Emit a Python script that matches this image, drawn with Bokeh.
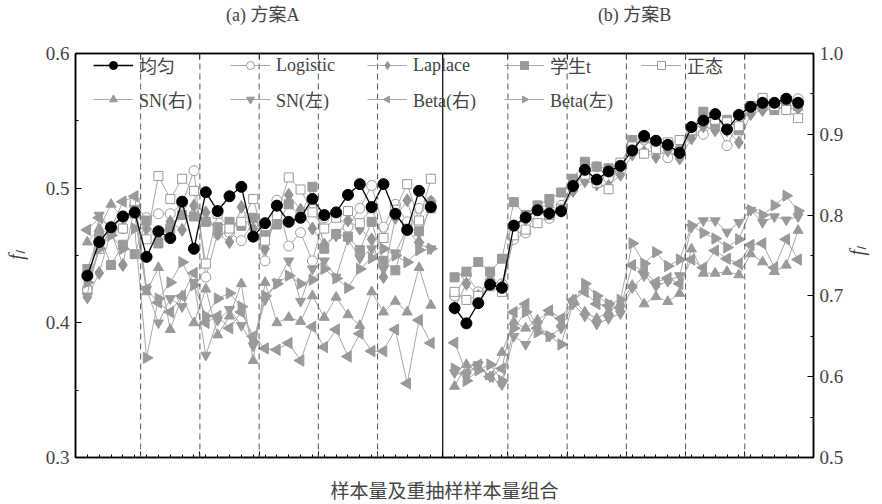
import math
from bokeh.plotting import figure
from bokeh.models import (Range1d, LinearAxis, FixedTicker, Span,
                          Legend, LegendItem, ColumnDataSource)
from bokeh.embed import file_html
from bokeh.resources import INLINE

# ---------------- data ----------------
x_a = list(range(1, 31))     # scheme A sample combinations
x_b = list(range(32, 62))    # scheme B sample combinations
group_bounds = [5.5, 10.5, 15.5, 20.5, 25.5, 36.5, 41.5, 46.5, 51.5, 56.5]
panel_divider = 31
panel_titles = ["(a) 方案A", "(b) 方案B"]
title_pos = [15.8, 47.2]
left_ticks = [0.3, 0.4, 0.5, 0.6]
right_ticks = [0.5, 0.6, 0.7, 0.8, 0.9, 1.0]

names = ["均匀", "Logistic", "Laplace", "学生t", "正态",
         "SN(右)", "SN(左)", "Beta(右)", "Beta(左)"]

uniform_a = [0.435, 0.460, 0.471, 0.479, 0.482, 0.449, 0.468, 0.463, 0.490, 0.455,
             0.497, 0.483, 0.494, 0.501, 0.464, 0.474, 0.487, 0.475, 0.478, 0.492,
             0.480, 0.482, 0.495, 0.503, 0.486, 0.503, 0.481, 0.469, 0.498, 0.486]
logistic_a = [0.425, 0.455, 0.468, 0.470, 0.487, 0.478, 0.481, 0.481, 0.488, 0.513,
              0.434, 0.466, 0.467, 0.461, 0.474, 0.446, 0.491, 0.457, 0.467, 0.446,
              0.478, 0.480, 0.471, 0.485, 0.502, 0.471, 0.488, 0.475, 0.485, 0.490]
laplace_a = [0.419, 0.437, 0.468, 0.443, 0.487, 0.470, 0.462, 0.475, 0.469, 0.487,
             0.482, 0.466, 0.460, 0.486, 0.470, 0.455, 0.480, 0.495, 0.484, 0.470,
             0.458, 0.465, 0.476, 0.470, 0.462, 0.434, 0.478, 0.491, 0.460, 0.490]
student_a = [0.440, 0.465, 0.443, 0.458, 0.451, 0.476, 0.459, 0.470, 0.480, 0.479,
             0.475, 0.471, 0.475, 0.472, 0.478, 0.465, 0.473, 0.488, 0.479, 0.501,
             0.455, 0.466, 0.464, 0.454, 0.475, 0.446, 0.439, 0.470, 0.468, 0.485]
normal_a = [0.424, 0.455, 0.470, 0.470, 0.489, 0.462, 0.509, 0.492, 0.507, 0.498,
            0.444, 0.481, 0.470, 0.475, 0.492, 0.461, 0.480, 0.508, 0.499, 0.482,
            0.470, 0.478, 0.483, 0.474, 0.485, 0.463, 0.484, 0.503, 0.476, 0.507]
sn_right_a = [0.460, 0.470, 0.488, 0.478, 0.480, 0.423, 0.441, 0.395, 0.420, 0.400,
              0.425, 0.391, 0.405, 0.429, 0.372, 0.430, 0.400, 0.404, 0.401, 0.420,
              0.404, 0.419, 0.406, 0.398, 0.423, 0.408, 0.416, 0.408, 0.441, 0.413]
sn_left_a = [0.420, 0.480, 0.470, 0.478, 0.485, 0.425, 0.400, 0.418, 0.412, 0.430,
             0.376, 0.402, 0.410, 0.398, 0.383, 0.417, 0.430, 0.446, 0.416, 0.440,
             0.446, 0.434, 0.462, 0.448, 0.455, 0.440, 0.452, 0.470, 0.458, 0.455]
beta_right_a = [0.469, 0.478, 0.470, 0.490, 0.494, 0.425, 0.415, 0.408, 0.420, 0.437,
                0.400, 0.405, 0.396, 0.408, 0.390, 0.381, 0.380, 0.385, 0.372, 0.397,
                0.382, 0.395, 0.375, 0.392, 0.379, 0.379, 0.395, 0.355, 0.402, 0.385]
beta_left_a = [0.430, 0.455, 0.465, 0.455, 0.470, 0.374, 0.418, 0.430, 0.445, 0.428,
               0.405, 0.418, 0.422, 0.412, 0.386, 0.420, 0.429, 0.435, 0.429, 0.432,
               0.440, 0.433, 0.426, 0.440, 0.448, 0.455, 0.450, 0.445, 0.454, 0.455]

uniform_b = [0.685, 0.666, 0.691, 0.714, 0.710, 0.787, 0.797, 0.806, 0.802, 0.805,
             0.836, 0.856, 0.844, 0.854, 0.861, 0.880, 0.898, 0.892, 0.887, 0.877,
             0.909, 0.917, 0.925, 0.906, 0.924, 0.934, 0.939, 0.939, 0.944, 0.939]
logistic_b = [0.700, 0.726, 0.705, 0.718, 0.715, 0.770, 0.778, 0.806, 0.796, 0.812,
              0.840, 0.848, 0.860, 0.846, 0.855, 0.887, 0.893, 0.885, 0.871, 0.880,
              0.898, 0.900, 0.915, 0.886, 0.915, 0.928, 0.934, 0.937, 0.941, 0.944]
laplace_b = [0.685, 0.715, 0.700, 0.720, 0.712, 0.785, 0.795, 0.810, 0.812, 0.805,
             0.830, 0.842, 0.838, 0.836, 0.850, 0.875, 0.878, 0.872, 0.880, 0.870,
             0.895, 0.910, 0.905, 0.905, 0.890, 0.925, 0.930, 0.932, 0.932, 0.932]
student_b = [0.723, 0.730, 0.742, 0.730, 0.746, 0.816, 0.800, 0.812, 0.820, 0.828,
             0.845, 0.866, 0.860, 0.858, 0.862, 0.893, 0.895, 0.882, 0.885, 0.880,
             0.905, 0.928, 0.912, 0.918, 0.905, 0.935, 0.935, 0.930, 0.935, 0.935]
normal_b = [0.705, 0.695, 0.700, 0.712, 0.705, 0.775, 0.782, 0.790, 0.800, 0.808,
            0.835, 0.850, 0.840, 0.832, 0.865, 0.885, 0.876, 0.882, 0.890, 0.893,
            0.905, 0.915, 0.918, 0.915, 0.910, 0.935, 0.945, 0.935, 0.930, 0.920]
sn_right_b = [0.588, 0.615, 0.612, 0.600, 0.630, 0.668, 0.660, 0.670, 0.680, 0.665,
              0.695, 0.680, 0.672, 0.680, 0.690, 0.713, 0.690, 0.699, 0.693, 0.703,
              0.758, 0.728, 0.728, 0.730, 0.726, 0.752, 0.742, 0.730, 0.738, 0.781]
sn_left_b = [0.605, 0.602, 0.615, 0.600, 0.590, 0.650, 0.640, 0.665, 0.650, 0.660,
             0.690, 0.675, 0.665, 0.672, 0.678, 0.710, 0.725, 0.712, 0.718, 0.725,
             0.785, 0.793, 0.793, 0.779, 0.791, 0.806, 0.791, 0.798, 0.794, 0.798]
beta_right_b = [0.642, 0.605, 0.615, 0.600, 0.610, 0.680, 0.690, 0.660, 0.682, 0.672,
                0.695, 0.705, 0.690, 0.688, 0.685, 0.738, 0.730, 0.717, 0.722, 0.715,
                0.745, 0.735, 0.756, 0.746, 0.740, 0.763, 0.765, 0.735, 0.770, 0.745]
beta_left_b = [0.610, 0.595, 0.608, 0.615, 0.595, 0.660, 0.680, 0.655, 0.650, 0.640,
               0.690, 0.715, 0.700, 0.690, 0.695, 0.765, 0.740, 0.754, 0.737, 0.745,
               0.787, 0.778, 0.771, 0.760, 0.770, 0.806, 0.800, 0.812, 0.824, 0.805]

series_a = [uniform_a, logistic_a, laplace_a, student_a, normal_a,
            sn_right_a, sn_left_a, beta_right_a, beta_left_a]
series_b = [uniform_b, logistic_b, laplace_b, student_b, normal_b,
            sn_right_b, sn_left_b, beta_right_b, beta_left_b]

# ---------------- styles ----------------
FONT = "Liberation Serif, Noto Sans CJK SC"
GRAY = "#9a9a9a"
LINE_GRAY = "#a8a8a8"
styles = [
    dict(marker="circle", size=11, fill="black", edge="black", line="black", lw=1.3, angle=0.0),
    dict(marker="circle", size=10, fill="white", edge=GRAY, line=LINE_GRAY, lw=1, angle=0.0),
    dict(marker="diamond", size=13, fill="#959595", edge="#959595", line=LINE_GRAY, lw=1, angle=0.0),
    dict(marker="square", size=9, fill=GRAY, edge=GRAY, line=LINE_GRAY, lw=1, angle=0.0),
    dict(marker="square", size=9, fill="white", edge=GRAY, line=LINE_GRAY, lw=1, angle=0.0),
    dict(marker="triangle", size=10, fill=GRAY, edge=GRAY, line=LINE_GRAY, lw=1, angle=0.0),
    dict(marker="inverted_triangle", size=10, fill=GRAY, edge=GRAY, line=LINE_GRAY, lw=1, angle=0.0),
    dict(marker="ngon", size=10, fill=GRAY, edge=GRAY, line=LINE_GRAY, lw=1, angle=math.pi / 2),
    dict(marker="ngon", size=10, fill=GRAY, edge=GRAY, line=LINE_GRAY, lw=1, angle=-math.pi / 2),
]

# ---------------- figure ----------------
p = figure(width=882, height=504, output_backend="svg", toolbar_location=None,
           x_range=Range1d(0, 62.3), y_range=Range1d(0.3, 0.6),
           min_border_left=75, min_border_right=60, min_border_top=53,
           min_border_bottom=46)
p.extra_y_ranges = {"right": Range1d(0.5, 1.0)}
p.grid.visible = False
p.outline_line_color = "black"
p.outline_line_width = 1.5
p.background_fill_color = "white"
p.border_fill_color = "white"

xticks_major = group_bounds[:5] + [panel_divider] + group_bounds[5:]
xminor = [i for i in range(1, 62)]

# bottom axis: group ticks + small ticks, axis title
bx = p.xaxis[0]
bx.ticker = FixedTicker(ticks=xticks_major, minor_ticks=xminor)
bx.major_label_overrides = {t: "" for t in xticks_major}
bx.major_tick_in = 6
bx.major_tick_out = 0
bx.minor_tick_in = 3
bx.minor_tick_out = 0
bx.major_label_standoff = 0
bx.axis_line_width = 1.5
bx.axis_label = "样本量及重抽样样本量组合"
bx.axis_label_text_font = FONT
bx.axis_label_text_font_size = "19px"
bx.axis_label_text_font_style = "normal"
bx.axis_label_standoff = 23

# top axis: panel titles as labels, group ticks drawn as (inward) minor ticks
top = LinearAxis(ticker=FixedTicker(ticks=title_pos, minor_ticks=xticks_major))
top.major_label_overrides = {t: s for t, s in zip(title_pos, panel_titles)}
top.major_label_text_font = FONT
top.major_label_text_font_size = "18px"
top.major_label_standoff = 29
top.major_tick_in = 0
top.major_tick_out = 0
top.minor_tick_in = 6
top.minor_tick_out = 0
top.axis_line_width = 1.5
p.add_layout(top, "above")

ly = p.yaxis[0]
ly.ticker = FixedTicker(ticks=left_ticks, minor_ticks=[0.35, 0.45, 0.55])
ly.major_label_overrides = {t: f"{t:.1f}" for t in left_ticks}
ly.major_tick_in = 6
ly.major_tick_out = 0
ly.minor_tick_in = 3
ly.minor_tick_out = 0
ly.axis_line_width = 1.5
ly.major_label_text_font = FONT
ly.major_label_text_font_size = "19px"
ly.major_label_standoff = 6
ly.axis_label = "f\u2097"
ly.axis_label_text_font = FONT
ly.axis_label_text_font_size = "20px"
ly.axis_label_text_font_style = "italic"
ly.axis_label_standoff = 16

ry = LinearAxis(y_range_name="right",
                ticker=FixedTicker(ticks=right_ticks, minor_ticks=[0.55, 0.65, 0.75, 0.85, 0.95]))
ry.major_label_overrides = {t: f"{t:.1f}" for t in right_ticks}
ry.major_tick_in = 6
ry.major_tick_out = 0
ry.minor_tick_in = 3
ry.minor_tick_out = 0
ry.axis_line_width = 1.5
ry.major_label_text_font = FONT
ry.major_label_text_font_size = "19px"
ry.major_label_standoff = 6
ry.axis_label = "f\u2097"
ry.axis_label_text_font = FONT
ry.axis_label_text_font_size = "20px"
ry.axis_label_text_font_style = "italic"
ry.axis_label_standoff = 11
ry.axis_label_orientation = math.pi / 2
p.add_layout(ry, "right")

# separators
for gx in group_bounds:
    p.add_layout(Span(location=gx, dimension="height", line_color="#555555",
                      line_width=1, line_dash="6 4"))
p.add_layout(Span(location=panel_divider, dimension="height", line_color="black",
                  line_width=1.2))

# series (gray first, black on top)
order = list(range(1, 9)) + [0]
legend_refs = {}
for k in order:
    st = styles[k]
    refs = []
    for xs, ys, rng in ((x_a, series_a[k], "default"), (x_b, series_b[k], "right")):
        src = ColumnDataSource(dict(x=xs, y=ys, angle=[st["angle"]] * len(xs)))
        ln = p.line("x", "y", source=src, line_color=st["line"], line_width=st["lw"],
                    y_range_name=rng)
        if st["marker"] == "ngon":
            sc = p.ngon("x", "y", source=src, radius=0.55, n=3, angle="angle",
                        fill_color=st["fill"], line_color=st["edge"], line_width=1,
                        y_range_name=rng)
        else:
            sc = p.scatter("x", "y", source=src, marker=st["marker"], size=st["size"],
                           fill_color=st["fill"], line_color=st["edge"], line_width=1,
                           angle="angle", y_range_name=rng)
        if rng == "default":
            refs = [ln, sc]
    legend_refs[k] = refs

items = [LegendItem(label=names[k], renderers=legend_refs[k], index=0) for k in range(9)]
legend = Legend(items=items, location=(18, 345), orientation="horizontal", ncols=5,
                border_line_alpha=0, background_fill_alpha=0,
                glyph_width=40, glyph_height=20, label_height=20, label_width=83,
                label_standoff=6, spacing=8, padding=0, margin=0,
                label_text_font=FONT, label_text_font_size="18px")
p.add_layout(legend)

open("out.html", "w").write(file_html(p, INLINE))
